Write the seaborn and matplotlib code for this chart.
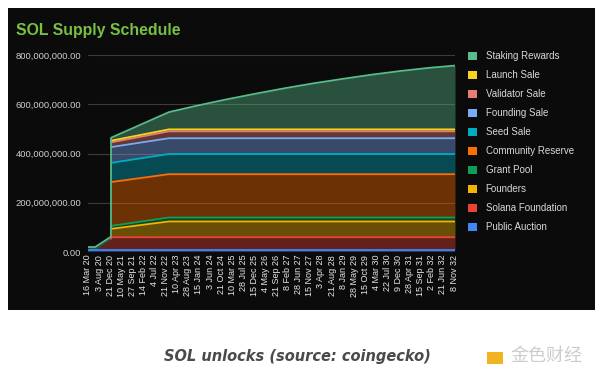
import matplotlib
matplotlib.use("Agg")
import matplotlib.pyplot as plt
from matplotlib.patches import Patch, Rectangle
from matplotlib.ticker import FuncFormatter
import seaborn as sns
import numpy as np
import pandas as pd

# data (millions of SOL)
dates = ["2020-03-16", "2020-06-15", "2020-12-31", "2021-01-01", "2023-01-01",
         "2024-01-01", "2025-01-01", "2026-01-01", "2027-01-01", "2028-01-01",
         "2029-01-01", "2030-01-01", "2031-01-01", "2032-01-01", "2032-11-20"]
public_auction = [8.2, 8.2, 8.2, 8.2, 8.2, 8.2, 8.2, 8.2, 8.2, 8.2, 8.2, 8.2, 8.2, 8.2, 8.2]
solana_foundation = [0, 0, 45, 51.8, 51.8, 51.8, 51.8, 51.8, 51.8, 51.8, 51.8, 51.8, 51.8, 51.8, 51.8]
founders = [0, 0, 0, 34, 64, 64, 64, 64, 64, 64, 64, 64, 64, 64, 64]
grant_pool = [0, 0, 0, 12, 16, 16, 16, 16, 16, 16, 16, 16, 16, 16, 16]
community_reserve = [0, 0, 0, 178, 176, 176, 176, 176, 176, 176, 176, 176, 176, 176, 176]
seed_sale = [0, 0, 0, 78, 82, 82, 82, 82, 82, 82, 82, 82, 82, 82, 82]
founding_sale = [0, 0, 0, 64, 64, 64, 64, 64, 64, 64, 64, 64, 64, 64, 64]
validator_sale = [0, 0, 0, 19, 28, 28, 28, 28, 28, 28, 28, 28, 28, 28, 28]
launch_sale = [0, 0, 0, 7, 8, 8, 8, 8, 8, 8, 8, 8, 8, 8, 8]
staking_rewards = [12, 12, 9, 12, 70, 97, 122, 145, 167, 187, 205, 222, 237, 250, 259]

# bottom -> top
series = [
    ("Public Auction", public_auction, "#4285f4"),
    ("Solana Foundation", solana_foundation, "#ea4335"),
    ("Founders", founders, "#f4b400"),
    ("Grant Pool", grant_pool, "#0f9d58"),
    ("Community Reserve", community_reserve, "#ff6d00"),
    ("Seed Sale", seed_sale, "#00acc1"),
    ("Founding Sale", founding_sale, "#7baaf7"),
    ("Validator Sale", validator_sale, "#e67c73"),
    ("Launch Sale", launch_sale, "#f6d321"),
    ("Staking Rewards", staking_rewards, "#57bb8a"),
]

sns.set_theme(style="dark")
plt.rcParams["font.family"] = ["Liberation Sans", "DejaVu Sans"]

bg = "#0b0b0b"
fig = plt.figure(figsize=(6, 3.76), dpi=100)
fig.patch.set_facecolor("white")

# black panel behind the chart
panel = fig.add_axes([8 / 600, 1 - 310 / 376, 587 / 600, 302 / 376])
panel.set_facecolor(bg)
panel.set_xticks([])
panel.set_yticks([])
for s in panel.spines.values():
    s.set_visible(False)
panel.set_zorder(0)

ax = fig.add_axes([88 / 600, 1 - 252 / 376, 367 / 600, 197 / 376])
ax.set_facecolor(bg)
ax.set_zorder(1)

x = pd.to_datetime(dates)
base = np.zeros(len(dates))
tops = []
for name, vals, col in series:
    v = np.array(vals, dtype=float) * 1e6
    top = base + v
    ax.fill_between(x, base, top, color=col, alpha=0.4, linewidth=0, zorder=2)
    tops.append((top, v, col))
    base = top

for top, v, col in tops:
    line = np.where(v > 0, top, np.nan)
    sns.lineplot(x=x, y=line, color=col, linewidth=1.3, ax=ax, zorder=3)

ax.set_xlim(pd.Timestamp("2020-03-16"), pd.Timestamp("2032-11-20"))
ax.set_ylim(0, 800e6)
ax.set_yticks([0, 200e6, 400e6, 600e6, 800e6])
ax.yaxis.set_major_formatter(FuncFormatter(lambda v, _: f"{v:,.2f}"))
ticks = pd.date_range("2020-03-16", periods=34, freq="140D")
ax.set_xticks(ticks)
ax.set_xticklabels([f"{d.day} {d.strftime('%b %y')}" for d in ticks], rotation=90)
ax.tick_params(axis="x", colors="#e6e6e6", labelsize=6.5, length=0, pad=2)
ax.tick_params(axis="y", colors="#cfcfcf", labelsize=6.8, length=0, pad=5)
ax.grid(axis="y", color="#3c3c3c", linewidth=0.8, zorder=1)
ax.grid(axis="x", visible=False)
ax.set_axisbelow(True)
ax.set_xlabel("")
ax.set_ylabel("")
for s in ax.spines.values():
    s.set_visible(False)

handles = [Patch(facecolor=col, edgecolor="none", label=name) for name, _, col in series[::-1]]
leg = fig.legend(handles=handles, loc="upper left", bbox_to_anchor=(468 / 600, 1 - 51 / 376),
                 frameon=False, fontsize=7, labelcolor="#d8d8d8", handlelength=0.9, handleheight=0.9,
                 handletextpad=0.9, labelspacing=0.93, borderpad=0, borderaxespad=0)
leg.set_zorder(5)

fig.text(16 / 600, 1 - 30 / 376, "SOL Supply Schedule", color="#78c043", fontsize=11.4,
         fontweight="bold", va="center", ha="left", zorder=5)
fig.text(297 / 600, 1 - 357 / 376, "SOL unlocks (source: coingecko)", color="#4a4a4a",
         fontsize=10.5, fontweight="bold", fontstyle="italic", va="center", ha="center",
         family=["DejaVu Sans"])
fig.patches.append(Rectangle((487 / 600, 1 - 364 / 376), 16 / 600, 12 / 376,
                             transform=fig.transFigure, facecolor="#f2b320", edgecolor="none"))
fig.text(510 / 600, 1 - 356 / 376, "金色财经", color="#cccccc", fontsize=13,
         va="center", ha="left", family=["Noto Sans CJK SC", "DejaVu Sans"])

fig.savefig("out.png", dpi=100, facecolor=fig.get_facecolor())
